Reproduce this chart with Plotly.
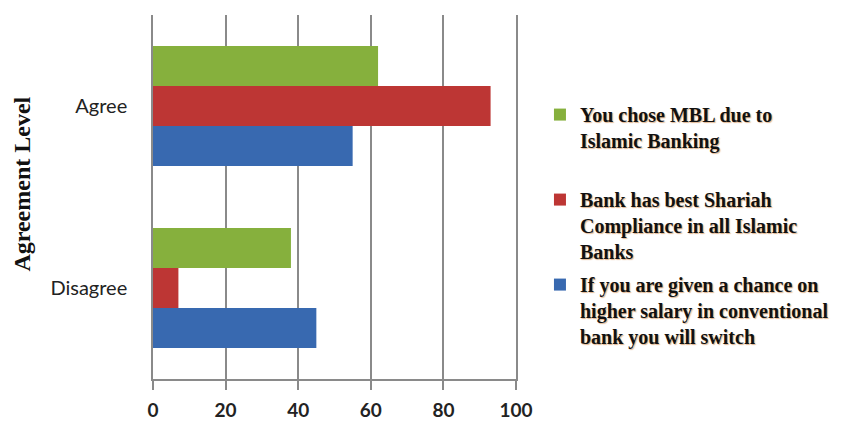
import plotly.graph_objects as go

categories = ["Disagree", "Agree"]
series_names = [
    "If you are given a chance on<br>higher salary in conventional<br>bank you will switch",
    "Bank has best Shariah<br>Compliance in all Islamic<br>Banks",
    "You chose MBL due to<br>Islamic Banking<br> ",
]
blue_values = [45, 55]
red_values = [7, 93]
green_values = [38, 62]
colors = ["#3869b0", "#bd3634", "#86b03d"]
ranks = [3, 2, 1]
x_ticks = [0, 20, 40, 60, 80, 100]

fig = go.Figure()
for name, vals, col, rk in zip(series_names, [blue_values, red_values, green_values], colors, ranks):
    fig.add_trace(go.Bar(
        y=categories, x=vals, name=name, orientation="h",
        marker=dict(color=col, line=dict(width=0)),
        legendgroup=name, legendrank=rk,
    ))

grey = "#8a8a8a"
fig.update_layout(
    width=847, height=413,
    margin=dict(l=145, r=339, t=7, b=42, autoexpand=False),
    paper_bgcolor="white", plot_bgcolor="white",
    barmode="group", bargap=0.34, bargroupgap=0,
    showlegend=True,
    legend=dict(
        x=1.066, xanchor="left", xref="paper", y=0.78, yanchor="top",
        traceorder="grouped", tracegroupgap=4, valign="top",
        font=dict(family="Liberation Serif", size=20, color="#111111", weight="bold",
                  shadow="1px 1px 1px rgba(200,120,50,0.55)"),
        itemwidth=30, bgcolor="rgba(0,0,0,0)",
    ),
    xaxis=dict(
        range=[0, 100], tickvals=x_ticks, showgrid=True, gridcolor=grey, gridwidth=1.5,
        zeroline=False, showline=True, linecolor=grey, linewidth=1.5,
        ticks="outside", ticklen=9, tickcolor=grey, tickwidth=1.5,
        tickfont=dict(family="Lato", size=19, color="#222", weight="bold"),
        ticklabelstandoff=4, fixedrange=True, automargin=False,
    ),
    yaxis=dict(
        type="category", categoryorder="array", categoryarray=categories,
        showgrid=False, zeroline=False, showline=True, mirror=True,
        linecolor=grey, linewidth=1.5, ticks="",
        tickfont=dict(family="Lato", size=20, color="#222"),
        ticklabelstandoff=20, automargin=False,
        fixedrange=True,
    ),
    annotations=[dict(
        text="Agreement Level", textangle=-90, xref="paper", yref="paper",
        x=-0.36, y=0.535, xanchor="center", yanchor="middle", showarrow=False,
        font=dict(family="Liberation Serif", size=24, color="#111", weight="bold"),
    )],
)

fig.write_html("out.html")
